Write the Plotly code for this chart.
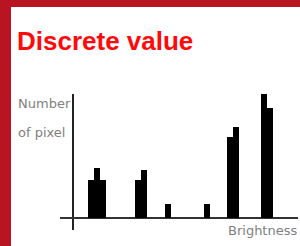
import plotly.graph_objects as go

# Data (brightness level, number of pixels)
brightness = [18, 24, 30, 65, 71, 95, 134, 157, 163, 191, 197]
pixel_count = [38, 50, 38, 38, 48, 14, 14, 81, 91, 124, 110]

W, H = 300, 246
L, R, T, B = 60, 2, 94, 16
PW, PH = W - L - R, H - T - B


def px(x):
    return (x - L) / PW


def py(y):
    return (H - B - y) / PH


fig = go.Figure(go.Bar(
    x=brightness, y=pixel_count, width=[6] * len(brightness),
    marker=dict(color="#000000", line=dict(width=0)), hoverinfo="skip"))

RED = "#b81422"
fig.add_shape(type="rect", xref="paper", yref="paper", x0=px(-2), x1=px(302),
              y0=py(7), y1=py(-2), fillcolor=RED, line=dict(width=0), layer="above")
fig.add_shape(type="rect", xref="paper", yref="paper", x0=px(-2), x1=px(11),
              y0=py(248), y1=py(-2), fillcolor=RED, line=dict(width=0), layer="above")

fig.add_annotation(text="<b>Discrete value</b>", xref="paper", yref="paper",
                   x=px(15), y=py(41), xanchor="left", yanchor="middle", showarrow=False,
                   font=dict(family="Liberation Sans, Arial", size=26, color="#ff0a0a"))

lab = dict(family="DejaVu Sans", size=13, color="#808080")
fig.add_annotation(text="Number", xref="paper", yref="paper", x=px(16), y=py(103),
                   xanchor="left", yanchor="middle", showarrow=False, font=lab)
fig.add_annotation(text="of pixel", xref="paper", yref="paper", x=px(16), y=py(132),
                   xanchor="left", yanchor="middle", showarrow=False, font=lab)
fig.add_annotation(text="Brightness", xref="paper", yref="paper", x=px(299), y=py(230),
                   xanchor="right", yanchor="middle", showarrow=False, font=lab)

fig.update_layout(
    width=W, height=H, margin=dict(l=L, r=R, t=T, b=B),
    paper_bgcolor="white", plot_bgcolor="white", showlegend=False,
    xaxis=dict(range=[-13, 225], showgrid=False, showticklabels=False, ticks="",
               zeroline=True, zerolinecolor="#222", zerolinewidth=2, showline=False,
               fixedrange=True),
    yaxis=dict(range=[-12, 124], showgrid=False, showticklabels=False, ticks="",
               zeroline=True, zerolinecolor="#333", zerolinewidth=2, showline=False,
               fixedrange=True),
)

fig.write_html("out.html", config={"displayModeBar": False},
               post_script="document.body.style.margin='0';document.body.style.overflow='hidden';")
